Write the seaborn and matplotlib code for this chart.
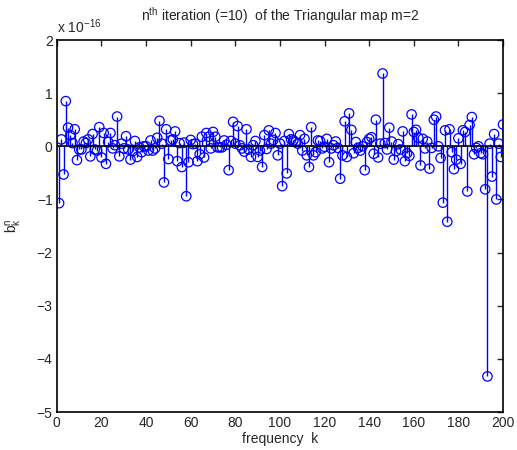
import numpy as np
import pandas as pd
import matplotlib
matplotlib.use("Agg")
import matplotlib.pyplot as plt
import seaborn as sns

# b_k^n values, in units of 1e-16, for k = 1..200
b_1_50 = [-1.07, 0.13, -0.53, 0.85, 0.35, 0.21, 0.06, 0.32, -0.26, -0.06,
          -0.06, 0.09, 0.06, 0.13, -0.19, 0.23, -0.06, -0.08, 0.36, -0.21,
          0.25, -0.33, 0.08, 0.25, -0.04, 0.02, 0.56, -0.19, 0.05, -0.04,
          0.19, -0.06, -0.25, -0.09, 0.10, -0.20, -0.02, -0.11, 0.00, 0.00,
          -0.08, 0.11, -0.08, -0.04, 0.16, 0.48, 0.05, -0.68, 0.32, -0.24]
b_51_100 = [0.11, 0.13, 0.28, -0.28, 0.06, -0.39, 0.07, -0.94, -0.30, 0.12,
            0.04, 0.05, -0.28, -0.15, 0.18, -0.21, 0.25, 0.18, -0.04, 0.27,
            0.18, -0.02, -0.02, -0.02, 0.11, 0.03, -0.45, 0.10, 0.46, 0.05,
            0.38, 0.02, -0.04, -0.10, 0.32, -0.06, -0.20, 0.02, 0.10, -0.20,
            -0.08, -0.39, 0.21, -0.05, 0.30, 0.05, 0.12, 0.25, -0.17, 0.05]
b_101_150 = [-0.75, 0.10, -0.51, 0.23, 0.13, 0.11, 0.08, 0.05, 0.21, -0.08,
             0.14, -0.17, -0.39, 0.36, -0.17, -0.11, 0.11, 0.10, -0.04, -0.01,
             0.14, -0.30, -0.04, 0.02, 0.09, -0.03, -0.61, -0.17, 0.47, -0.20,
             0.62, 0.31, -0.13, 0.08, -0.03, -0.08, 0.00, -0.45, 0.08, 0.14,
             0.17, -0.14, 0.50, -0.21, 0.05, 1.37, 0.06, -0.06, 0.35, 0.09]
b_151_200 = [-0.25, -0.09, 0.04, -0.06, 0.28, -0.28, -0.13, -0.18, 0.60, 0.27,
             0.31, 0.16, -0.36, 0.14, -0.04, 0.09, -0.42, -0.03, 0.50, 0.56,
             0.00, -0.22, -1.06, 0.30, -1.42, 0.32, -0.11, -0.43, -0.25, 0.15,
             -0.33, 0.30, 0.27, -0.85, 0.40, 0.55, -0.15, -0.03, 0.00, -0.13,
             -0.15, -0.81, -4.33, 0.05, -0.57, 0.23, -1.00, 0.05, -0.20, 0.41]

k = np.arange(1, 201)
b = b_1_50 + b_51_100 + b_101_150 + b_151_200
xticks = [0, 20, 40, 60, 80, 100, 120, 140, 160, 180, 200]
yticks = [-5, -4, -3, -2, -1, 0, 1, 2]

df = pd.DataFrame({"k": k, "b": b})

sns.set_style("white")
plt.rcParams["font.family"] = ["Liberation Sans", "DejaVu Sans"]
plt.rcParams["mathtext.fontset"] = "custom"
plt.rcParams["mathtext.rm"] = "Liberation Sans"
plt.rcParams["mathtext.it"] = "Liberation Sans"

fig = plt.figure(figsize=(5.17, 4.5), dpi=100)
ax = fig.add_axes([0.110, 0.0844, 0.863, 0.8267])

ax.vlines(df.k, 0, df.b, color="blue", linewidth=1.0, zorder=2)
sns.scatterplot(data=df, x="k", y="b", marker="o", s=46, facecolors="none",
                edgecolor="blue", linewidth=0.9, ax=ax, zorder=3)
ax.axhline(0, color="black", linewidth=1.2, zorder=4)

ax.set_xlim(0, 200)
ax.set_ylim(-5, 2)
ax.set_xticks(xticks)
ax.set_yticks(yticks)
ax.set_yticklabels([str(t).replace("-", "\u2212") for t in yticks])
ax.tick_params(axis="both", direction="in", length=4, width=1, labelsize=10,
               top=True, right=True, labeltop=False, labelright=False, pad=3)
for s in ax.spines.values():
    s.set_color("black")
    s.set_linewidth(1.2)

ax.set_xlabel("frequency  k", fontsize=10, labelpad=1)
ax.set_ylabel(r"b$_\mathregular{k}^\mathregular{n}$", fontsize=10, labelpad=9)
ax.set_title(r"n$^{\mathregular{th}}$ iteration (=10)  of the Triangular map m=2",
             fontsize=10, pad=14)
ax.text(0.0, 1.012, r"x 10$^{\mathregular{-16}}$", transform=ax.transAxes,
        fontsize=10, ha="left", va="bottom")

fig.savefig("out.png", dpi=100)
